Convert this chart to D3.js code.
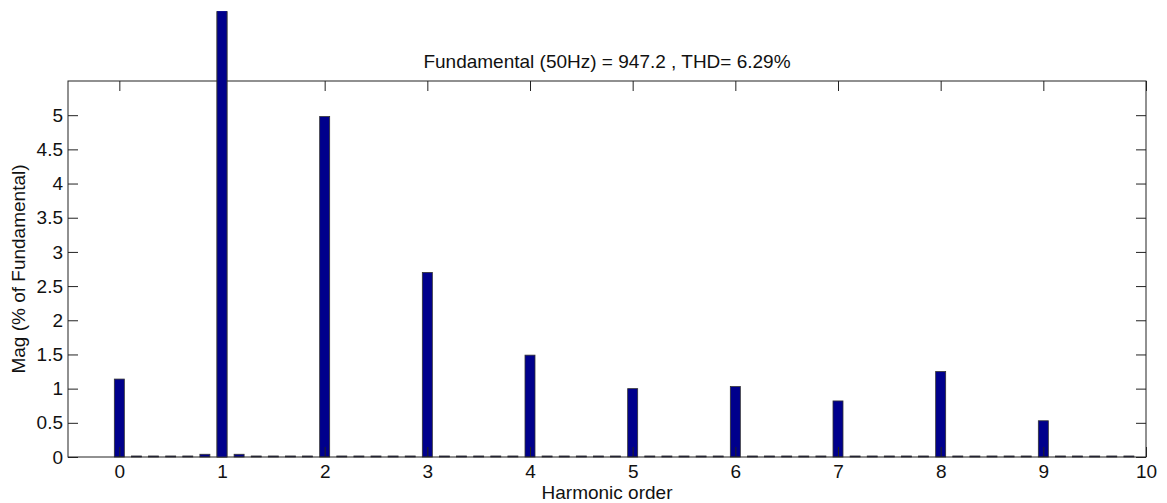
<!DOCTYPE html>
<html>
<head>
<meta charset="utf-8">
<script src="https://cdn.jsdelivr.net/npm/d3@7"></script>
<style>
  body { margin: 0; background: #fff; }
  text { font-family: "Liberation Sans", Arial, sans-serif; fill: #111; }
</style>
</head>
<body>
<div id="chart"></div>
<script>
// Harmonic spectrum: one bar every 1/6 of a harmonic order
const step = 1 / 6;
const harmonicMags = [1.14, 100, 4.98, 2.70, 1.49, 1.00, 1.03, 0.82, 1.25, 0.53]; // at orders 0..9
const interMags = [
    [0.015, 0.015, 0.015, 0.015, 0.04],   // between 0 and 1
    [0.04, 0.015, 0.015, 0.015, 0.015],   // between 1 and 2
    [0.015, 0.015, 0.015, 0.015, 0.015],
    [0.015, 0.015, 0.015, 0.015, 0.015],
    [0.015, 0.015, 0.015, 0.015, 0.015],
    [0.015, 0.015, 0.015, 0.015, 0.015],
    [0.015, 0.015, 0.015, 0.015, 0.015],
    [0.015, 0.015, 0.015, 0.015, 0.015],
    [0.015, 0.015, 0.015, 0.015, 0.015],
    [0.015, 0.015, 0.015, 0.015, 0.015]   // between 9 and 10
];
const xTicks = [0, 1, 2, 3, 4, 5, 6, 7, 8, 9, 10];
const yTicks = [0, 0.5, 1, 1.5, 2, 2.5, 3, 3.5, 4, 4.5, 5];
const xDomain = [-0.5, 10];
const yDomain = [0, 5.5];
const clipTop = 6.52; // fundamental bar is cut off at the figure edge

const titleText = "Fundamental (50Hz) = 947.2 , THD= 6.29%";

// build bar list
const bars = [];
harmonicMags.forEach((m, h) => {
    bars.push({ order: h, mag: m });
    interMags[h].forEach((v, i) => bars.push({ order: h + (i + 1) * step, mag: v }));
});

const width = 1167;
const height = 503;
const margin = { top: 81, right: 21, bottom: 46, left: 68 };
const fontSize = 19;

const svg = d3.select("#chart")
    .append("svg")
    .attr("width", width)
    .attr("height", height);

const x = d3.scaleLinear().domain(xDomain).range([margin.left, width - margin.right]);
const y = d3.scaleLinear().domain(yDomain).range([height - margin.bottom, margin.top]);

const barW = 10;

// clip for the fundamental that shoots above the axes
svg.append("clipPath").attr("id", "clip")
    .append("rect")
    .attr("x", 0).attr("y", y(clipTop))
    .attr("width", width).attr("height", height);

function drawBars(data) {
    svg.append("g")
        .attr("clip-path", "url(#clip)")
        .selectAll("rect")
        .data(data)
        .join("rect")
        .attr("x", d => x(d.order) - barW / 2)
        .attr("width", barW)
        .attr("y", d => y(d.mag))
        .attr("height", d => y(0) - y(d.mag))
        .attr("fill", "#00008c")
        .attr("stroke", "#333")
        .attr("stroke-width", 0.8);
}

drawBars(bars);

// axes box with inward ticks
const tickLen = 10;
const axisStyle = g => g.select(".domain").remove();

svg.append("g")
    .attr("transform", `translate(0,${y(0)})`)
    .call(d3.axisBottom(x).tickValues(xTicks).tickFormat(d3.format("d")).tickSizeInner(-tickLen).tickSizeOuter(0).tickPadding(8))
    .call(axisStyle)
    .call(g => g.selectAll("text").attr("font-size", fontSize));

svg.append("g")
    .attr("transform", `translate(0,${y(yDomain[1])})`)
    .call(d3.axisTop(x).tickValues(xTicks).tickSizeInner(-tickLen).tickSizeOuter(0).tickFormat(""))
    .call(axisStyle);

svg.append("g")
    .attr("transform", `translate(${x(xDomain[0])},0)`)
    .call(d3.axisLeft(y).tickValues(yTicks).tickFormat(d3.format("")).tickSizeInner(-tickLen).tickSizeOuter(0).tickPadding(5))
    .call(axisStyle)
    .call(g => g.selectAll("text").attr("font-size", fontSize));

svg.append("g")
    .attr("transform", `translate(${x(xDomain[1])},0)`)
    .call(d3.axisRight(y).tickValues(yTicks).tickSizeInner(-tickLen).tickSizeOuter(0).tickFormat(""))
    .call(axisStyle);

svg.selectAll(".tick line").attr("stroke", "#222");

svg.append("rect")
    .attr("x", x(xDomain[0]))
    .attr("y", y(yDomain[1]))
    .attr("width", x(xDomain[1]) - x(xDomain[0]))
    .attr("height", y(0) - y(yDomain[1]))
    .attr("fill", "none")
    .attr("stroke", "#222")
    .attr("stroke-width", 1);

// draw the fundamental again on top of the box top edge
drawBars(bars.filter(d => d.mag > yDomain[1]));

// title
svg.append("text")
    .attr("x", (x(xDomain[0]) + x(xDomain[1])) / 2)
    .attr("y", 68)
    .attr("text-anchor", "middle")
    .attr("font-size", fontSize)
    .text(titleText);

// axis titles
svg.append("text")
    .attr("x", (x(xDomain[0]) + x(xDomain[1])) / 2)
    .attr("y", 499)
    .attr("text-anchor", "middle")
    .attr("font-size", fontSize)
    .text("Harmonic order");

svg.append("text")
    .attr("transform", `translate(25,${(y(0) + y(yDomain[1])) / 2}) rotate(-90)`)
    .attr("text-anchor", "middle")
    .attr("font-size", fontSize)
    .text("Mag (% of Fundamental)");
</script>
</body>
</html>
